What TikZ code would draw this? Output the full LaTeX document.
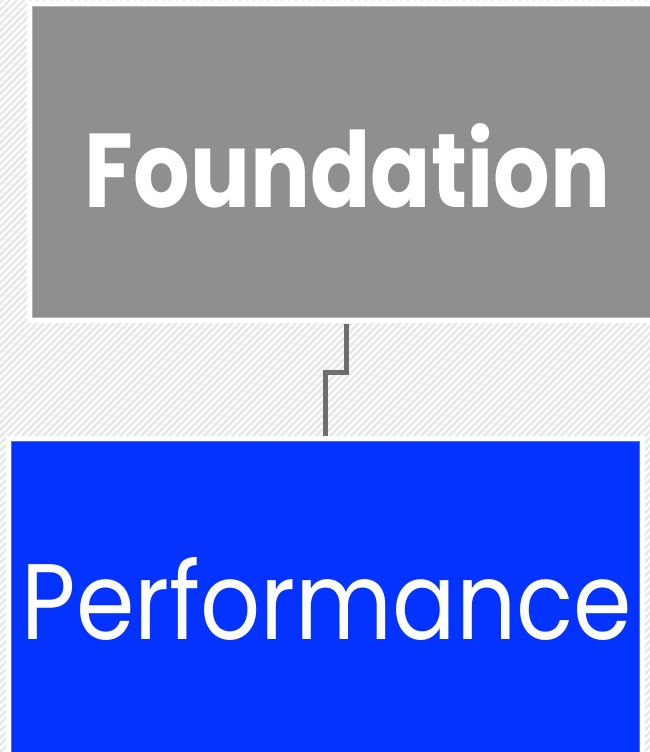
\documentclass[tikz,border=0pt]{standalone}
\usepackage{fontspec}
\usepackage{graphicx}
\usetikzlibrary{calc}
\newfontfamily\labelfont{Poppins}
\definecolor{boxgray}{HTML}{8F8F8F}
\definecolor{grayedge}{HTML}{B4B4B4}
\definecolor{boxblue}{HTML}{0433FF}
\definecolor{blueedge}{HTML}{4A6BFF}
\definecolor{hatchgray}{HTML}{E8E8E8}
\definecolor{linkgray}{HTML}{6E6E6E}
\begin{document}
\begin{tikzpicture}[x=1pt,y=-1pt,
  box/.style={rectangle, inner sep=0pt, minimum width=628pt, minimum height=310pt,
    line width=1pt, preaction={draw=white, line width=11pt}},
  boxtext/.style={inner sep=0pt, text=white},
  hatch/.style={draw=hatchgray, line width=2.6pt},
  link/.style={draw=linkgray, line width=5pt, line cap=butt, line join=miter}]
\useasboundingbox (0,0) rectangle (650,752);
\fill[white] (0,0) rectangle (650,752);
\begin{scope}
\clip (0,0) rectangle (650,752);
\foreach \i in {-756,-749,...,654} {
  \draw[hatch] (\i,752) -- ++(752,-752);
}
\end{scope}
\begin{scope}
\clip (0,0) rectangle (650,752);
\node[box, fill=boxgray, draw=grayedge] (found) at (346,162) {};
\node[box, fill=boxblue, draw=blueedge, minimum height=324pt] (perf) at (325,603) {};
\node[boxtext] (foundtext) at (347.5,166) {\resizebox{525pt}{84pt}{\labelfont\bfseries Foundation}};
\node[boxtext] (perftext) at (327,599) {\resizebox{610pt}{82pt}{\labelfont Performance}};
\end{scope}
\draw[link] ($(found.south)+(0,6)$) -- ++(0,49) -| ($(perf.north)-(0,5)$);
\end{tikzpicture}
\end{document}
